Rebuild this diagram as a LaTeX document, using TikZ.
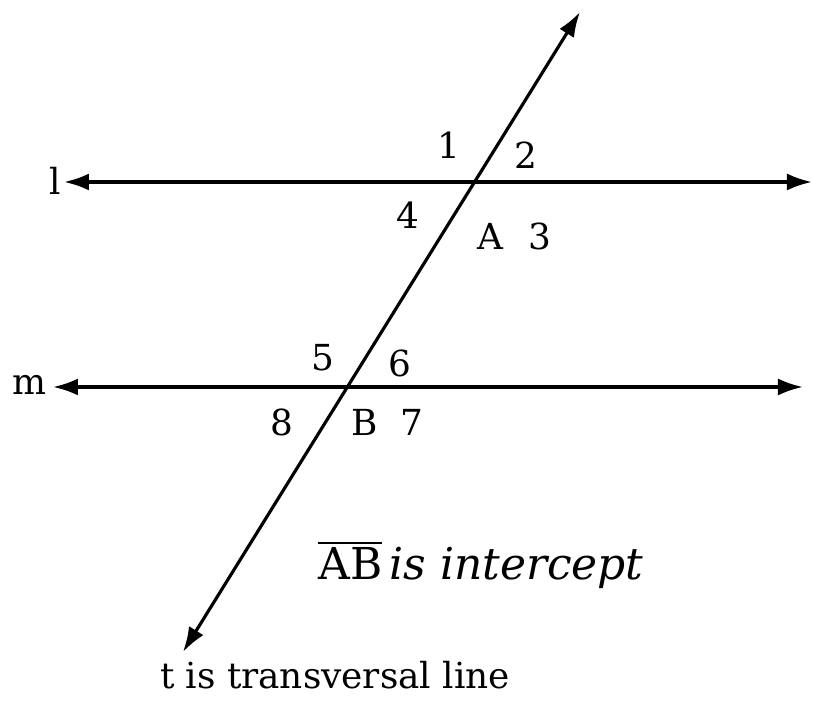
\documentclass[tikz,border=0pt]{standalone}
\usepackage{fontspec}
\setmainfont{DejaVu Serif}
\usetikzlibrary{arrows.meta}
\begin{document}
\begin{tikzpicture}[line width = 0.9pt,
  tips/.style={{Latex[length=0.25cm,width=0.17cm]}-{Latex[length=0.25cm,width=0.17cm]}},
  lbl/.style={font=\fontsize{10.2}{12}\selectfont, inner sep=0pt}]
\useasboundingbox (0,0) rectangle (8.13,7.02);
% points of the lines
\coordinate (lW) at (0.64,5.20);
\coordinate (lE) at (8.12,5.20);
\coordinate (mW) at (0.53,3.15);
\coordinate (mE) at (8.03,3.15);
\coordinate (tN) at (5.80,6.90);
\coordinate (tS) at (1.83,0.50);
% lines
\draw [tips] (lW) -- (lE);
\draw [tips] (mW) -- (mE);
\draw [tips] (tS) -- (tN);
% line names
\node[lbl] (l) at (0.55,5.21) {l};
\node[lbl] (m) at (0.29,3.17) {m};
% angles at A
\node[lbl] (a1) at (4.49,5.57) {1};
\node[lbl] (a2) at (5.26,5.47) {2};
\node[lbl] (a4) at (4.08,4.87) {4};
\node[lbl] (A) at (4.90,4.66) {A};
\node[lbl] (a3) at (5.40,4.66) {3};
% angles at B
\node[lbl] (a5) at (3.23,3.44) {5};
\node[lbl] (a6) at (4.00,3.39) {6};
\node[lbl] (a8) at (2.82,2.80) {8};
\node[lbl] (B) at (3.65,2.80) {B};
\node[lbl] (a7) at (4.12,2.80) {7};
% notes
\node[lbl, font=\fontsize{12.5}{14}\selectfont] (icpt) at (4.81,1.37) {$\overline{\mathrm{AB}}$\,\textit{is intercept}};
\node[lbl] (trv) at (3.35,0.27) {t is transversal line};
\end{tikzpicture}
\end{document}
